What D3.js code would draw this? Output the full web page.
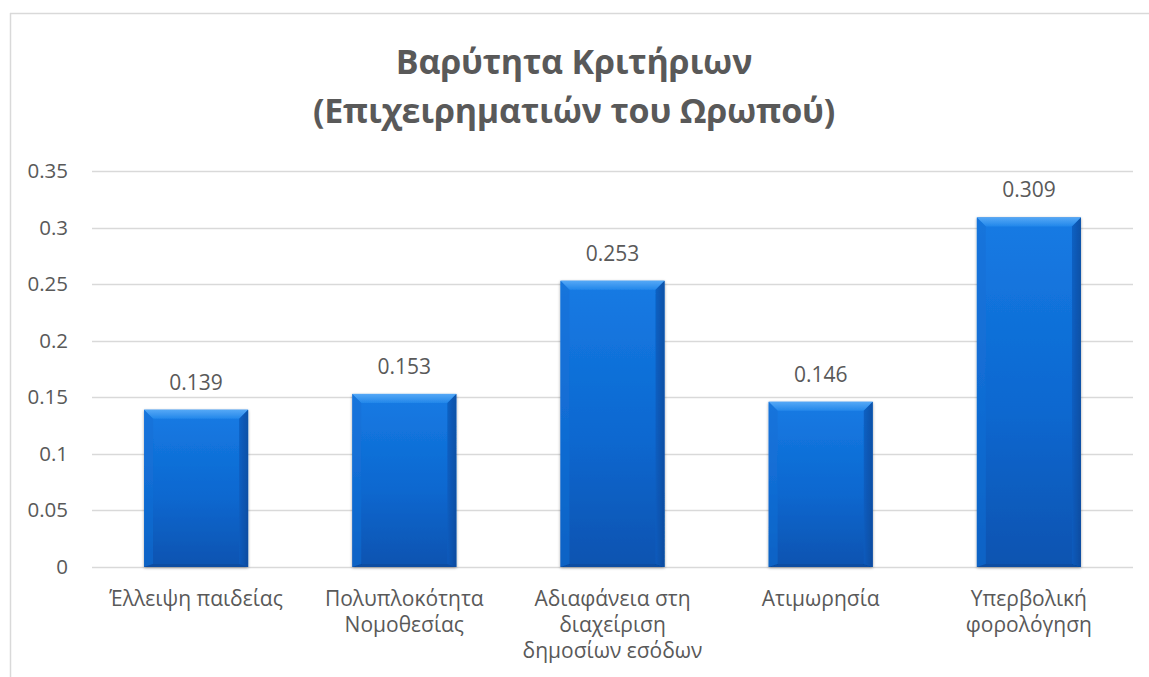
<!DOCTYPE html>
<html>
<head>
<meta charset="utf-8">
<script src="https://cdn.jsdelivr.net/npm/d3@7"></script>
<style>
  html, body { margin: 0; padding: 0; background: #fff; }
  svg { display: block; }
  text { font-family: "Open Sans", "Noto Sans", sans-serif; fill: #595959; }
</style>
</head>
<body>
<svg id="chart" width="1149" height="677"></svg>
<script>
// Chart data
const categories = [
  "Έλλειψη παιδείας",
  "Πολυπλοκότητα\nΝομοθεσίας",
  "Αδιαφάνεια στη\nδιαχείριση\nδημοσίων εσόδων",
  "Ατιμωρησία",
  "Υπερβολική\nφορολόγηση"
];
const values = [0.139, 0.153, 0.253, 0.146, 0.309];
const yTicks = [0, 0.05, 0.1, 0.15, 0.2, 0.25, 0.3, 0.35];
const titleLines = ["Βαρύτητα Κριτήριων", "(Επιχειρηματιών του Ωρωπού)"];

const W = 1149, H = 677;
const margin = { left: 92, right: 16, top: 171, bottom: 110 };
const svg = d3.select("#chart");

// Chart area frame (only top and left edges fall inside the view)
svg.append("line").attr("x1", 10).attr("x2", W).attr("y1", 13.5).attr("y2", 13.5)
  .attr("stroke", "#d9d9d9").attr("stroke-width", 1.5);
svg.append("line").attr("x1", 10.5).attr("x2", 10.5).attr("y1", 13).attr("y2", H)
  .attr("stroke", "#d9d9d9").attr("stroke-width", 1.5);

const x = d3.scaleBand().domain(categories)
  .range([margin.left, W - margin.right]).paddingInner(0.5).paddingOuter(0.25);
const y = d3.scaleLinear().domain([0, 0.35]).range([H - margin.bottom, margin.top]);

// Title
const title = svg.append("text").attr("text-anchor", "middle")
  .style("font-weight", "bold").style("font-size", "34px").style("letter-spacing", "-0.2px");
titleLines.forEach((t, i) => {
  title.append("tspan").attr("x", 574).attr("y", 74 + i * 49).text(t);
});

// Gridlines
svg.append("g").selectAll("line").data(yTicks).join("line")
  .attr("x1", margin.left).attr("x2", W - margin.right)
  .attr("y1", d => Math.round(y(d)) + 0.5).attr("y2", d => Math.round(y(d)) + 0.5)
  .attr("stroke", "#d9d9d9").attr("stroke-width", 1.3);

// Y axis labels
const yAxis = d3.axisLeft(y).tickValues(yTicks).tickFormat(d => String(+d.toFixed(2))).tickSize(0).tickPadding(0);
const yg = svg.append("g").attr("transform", `translate(68,0)`).call(yAxis);
yg.select(".domain").remove();
yg.selectAll("text").style("font-size", "20.5px").attr("fill", "#595959")
  .style("font-family", '"Open Sans", sans-serif');

// Bar gradients
const defs = svg.append("defs");
const g1 = defs.append("linearGradient").attr("id", "barFill").attr("x1", 0).attr("y1", 0).attr("x2", 0).attr("y2", 1);
g1.append("stop").attr("offset", "0%").attr("stop-color", "#167be4");
g1.append("stop").attr("offset", "55%").attr("stop-color", "#0c68d0");
g1.append("stop").attr("offset", "100%").attr("stop-color", "#0853b0");
const gTop = defs.append("linearGradient").attr("id", "bevelTop").attr("x1", 0).attr("y1", 0).attr("x2", 0).attr("y2", 1);
gTop.append("stop").attr("offset", "0%").attr("stop-color", "#55a8f6");
gTop.append("stop").attr("offset", "100%").attr("stop-color", "#2287ea");
const gR = defs.append("linearGradient").attr("id", "bevelRight").attr("x1", 0).attr("y1", 0).attr("x2", 1).attr("y2", 0);
gR.append("stop").attr("offset", "0%").attr("stop-color", "#0a5cbe");
gR.append("stop").attr("offset", "100%").attr("stop-color", "#084a9c");
const shadow = defs.append("filter").attr("id", "barShadow").attr("x", "-10%").attr("y", "-10%").attr("width", "120%").attr("height", "120%");
shadow.append("feGaussianBlur").attr("in", "SourceAlpha").attr("stdDeviation", 1.5).attr("result", "b");
shadow.append("feOffset").attr("in", "b").attr("dx", 0).attr("dy", 1).attr("result", "o");
shadow.append("feComponentTransfer").attr("in", "o").attr("result", "s")
  .append("feFuncA").attr("type", "linear").attr("slope", 0.35);
const fm = shadow.append("feMerge");
fm.append("feMergeNode").attr("in", "s");
fm.append("feMergeNode").attr("in", "SourceGraphic");

const data = categories.map((c, i) => ({ c, v: values[i] }));
const bev = 9;
const bars = svg.append("g").selectAll("g").data(data).join("g").attr("filter", "url(#barShadow)");
bars.each(function(d) {
  const g = d3.select(this);
  const x0 = x(d.c), x1 = x0 + x.bandwidth();
  const y0 = y(d.v), y1 = y(0);
  g.append("rect").attr("x", x0).attr("y", y0).attr("width", x1 - x0).attr("height", y1 - y0)
    .attr("fill", "url(#barFill)");
  // top bevel
  g.append("path").attr("d", `M${x0},${y0}L${x1},${y0}L${x1 - bev},${y0 + bev}L${x0 + bev},${y0 + bev}Z`)
    .attr("fill", "url(#bevelTop)");
  // left bevel
  g.append("path").attr("d", `M${x0},${y0}L${x0 + bev},${y0 + bev}L${x0 + bev},${y1 - 3}L${x0},${y1}Z`)
    .attr("fill", "#1670d6").attr("opacity", 0.55);
  // right bevel
  g.append("path").attr("d", `M${x1},${y0}L${x1 - bev},${y0 + bev}L${x1 - bev},${y1 - 3}L${x1},${y1}Z`)
    .attr("fill", "url(#bevelRight)").attr("opacity", 0.85);
  // bottom bevel
  g.append("path").attr("d", `M${x0},${y1}L${x0 + bev},${y1 - 3}L${x1 - bev},${y1 - 3}L${x1},${y1}Z`)
    .attr("fill", "#084c9f").attr("opacity", 0.8);
});

// Value labels
svg.append("g").selectAll("text").data(data).join("text")
  .attr("x", d => x(d.c) + x.bandwidth() / 2)
  .attr("y", d => y(d.v) - 20)
  .attr("text-anchor", "middle").style("font-size", "21px")
  .text(d => d.v.toFixed(3));

// Category labels
const xl = svg.append("g").selectAll("text").data(categories).join("text")
  .attr("text-anchor", "middle").style("font-size", "21px");
xl.each(function(c) {
  const t = d3.select(this);
  c.split("\n").forEach((line, i) => {
    t.append("tspan").attr("x", x(c) + x.bandwidth() / 2).attr("y", 606 + i * 26).text(line);
  });
});
</script>
</body>
</html>
